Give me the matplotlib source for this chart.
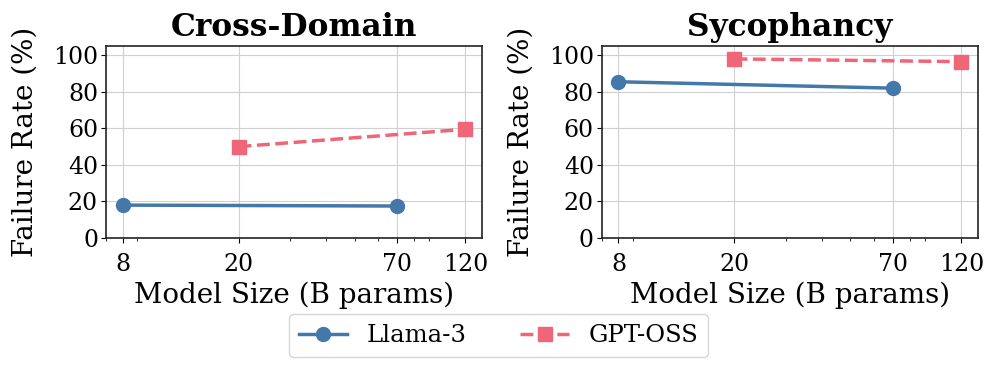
import matplotlib
matplotlib.use("Agg")
import matplotlib.pyplot as plt
from matplotlib.ticker import FixedLocator, FixedFormatter, NullFormatter

plt.rcParams["font.family"] = "DejaVu Serif"

# data
panels = ["Cross-Domain", "Sycophancy"]
llama_sizes = [8, 70]
gpt_sizes = [20, 120]
llama_rates = {"Cross-Domain": [18.0, 17.5], "Sycophancy": [85.5, 82.0]}
gpt_rates = {"Cross-Domain": [50.0, 59.5], "Sycophancy": [98.0, 96.5]}
xticks = [8, 20, 70, 120]
yticks = [0, 20, 40, 60, 80, 100]

BLUE = "#4477AA"
PINK = "#EE6677"

fig, axes = plt.subplots(1, 2, figsize=(9.97, 3.69), dpi=100)
fig.subplots_adjust(left=0.106, right=0.981, top=0.875, bottom=0.355, wspace=0.317)

for ax, name in zip(axes, panels):
    ax.plot(llama_sizes, llama_rates[name], "-o", color=BLUE, lw=2.5,
            ms=10, label="Llama-3")
    ax.plot(gpt_sizes, gpt_rates[name], "--s", color=PINK, lw=2.5,
            ms=10, label="GPT-OSS")
    ax.set_xscale("log")
    ax.xaxis.set_major_locator(FixedLocator(xticks))
    ax.xaxis.set_major_formatter(FixedFormatter([str(t) for t in xticks]))
    ax.xaxis.set_minor_formatter(NullFormatter())
    ax.set_xlim(7.0, 137)
    ax.set_ylim(0, 105)
    ax.set_yticks(yticks)
    ax.grid(True, color="#d0d0d0", lw=0.8)
    ax.set_axisbelow(True)
    ax.tick_params(axis="y", labelsize=17, pad=2)
    ax.tick_params(axis="x", labelsize=17, pad=7)
    ax.set_title(name, fontsize=22.5, fontweight="bold", pad=7)
    ax.set_xlabel("Model Size (B params)", fontsize=20, labelpad=4)
    ax.set_ylabel("Failure Rate (%)", fontsize=20, labelpad=10)
    for s in ax.spines.values():
        s.set_color("#222222")
        s.set_linewidth(1.2)

handles, labels = axes[0].get_legend_handles_labels()
fig.legend(handles, labels, loc="lower center", ncol=2, fontsize=17.5,
           bbox_to_anchor=(0.5, 0.0), frameon=True, columnspacing=2.2)

fig.savefig("out.png", dpi=100)
